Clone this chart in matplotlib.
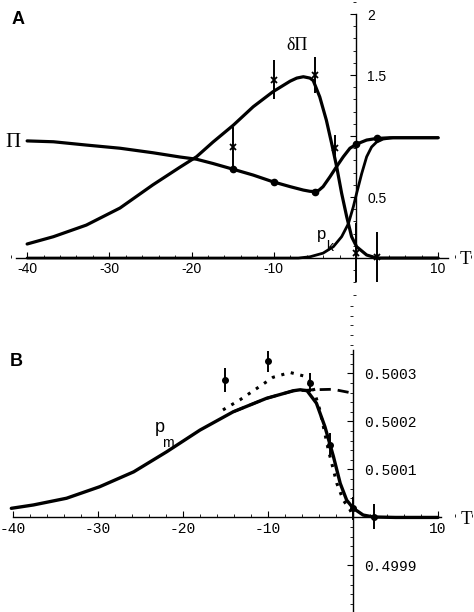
import matplotlib
matplotlib.use('Agg')
import matplotlib.pyplot as plt
from matplotlib.ticker import FixedLocator, FixedFormatter, MultipleLocator

# ---- panel A ----
T_pi = [-40, -36.8, -32.8, -28.7, -24.7, -21.4, -19.4, -17.4, -14.9, -12.5, -10.1,
        -8, -6.4, -5.6, -5, -4.5, -4, -3.16, -2.35, -1.54, -0.73, 0.08, 1.3, 2.5,
        4.1, 10]
pi_vals = [0.96, 0.953, 0.926, 0.90, 0.863, 0.828, 0.81, 0.775, 0.727, 0.68, 0.625,
           0.585, 0.557, 0.547, 0.545, 0.556, 0.585, 0.666, 0.75, 0.83, 0.90, 0.934,
           0.967, 0.98, 0.986, 0.986]

T_dpi = [-40, -36.8, -32.8, -28.7, -24.7, -21.4, -19.4, -17.4, -14.9, -12.5, -10.1,
         -8, -7.2, -6.4, -5.6, -5.2, -4.4, -3.6, -2.96, -2.35, -1.74, -1.13, -0.53,
         0.08, 1.3, 2.5, 10]
dpi_vals = [0.115, 0.175, 0.27, 0.41, 0.60, 0.745, 0.83, 0.95, 1.09, 1.24, 1.363,
            1.45, 1.475, 1.486, 1.475, 1.455, 1.32, 1.13, 0.94, 0.75, 0.53, 0.34,
            0.175, 0.093, 0.025, 0.0, 0.0]

T_pk = [-40, -7, -5.6, -4, -2.75, -1.74, -0.93, -0.32, 0.08, 0.69, 1.3, 1.9, 2.5,
        3.3, 4.5, 10]
pk_vals = [0.0, 0.0, 0.01, 0.04, 0.093, 0.175, 0.28, 0.42, 0.53, 0.69, 0.83, 0.91,
           0.95, 0.975, 0.986, 0.986]

T_pi_dots = [-15, -10, -5, 0, 2.5]
pi_dots = [0.727, 0.625, 0.545, 0.934, 0.98]

T_err_a = [-15, -10, -5, -2.55, 0, 2.5]
err_a_mid = [0.91, 1.46, 1.50, 0.905, 0.045, 0.005]
err_a_half = [0.16, 0.16, 0.15, 0.105, 0.245, 0.205]

# ---- panel B (deviation from 0.5, in units of 1e-4) ----
T_pm = [-40.2, -37.6, -33.7, -29.8, -25.8, -21.9, -18, -14.1, -10.2, -7, -6.2, -5.4,
        -4.3, -3.3, -2.3, -1.5, -0.74, 0.04, 1.2, 2.4, 5, 10]
pm_dev = [0.19, 0.26, 0.40, 0.64, 0.95, 1.37, 1.82, 2.2, 2.48, 2.64, 2.66, 2.64,
          2.38, 1.89, 1.27, 0.71, 0.36, 0.19, 0.05, 0.01, 0.0, 0.0]

T_dash = [-14.1, -10.2, -7, -5.4, -4.67, -2.35, -0.04]
dash_dev = [2.2, 2.48, 2.64, 2.65, 2.66, 2.67, 2.59]

T_dot = [-15.3, -13.3, -11.3, -9.4, -7.4, -5.85, -4.86, -3.9, -2.9, -1.9, -1.14,
         -0.35, 0.1]
dot_dev = [2.24, 2.45, 2.69, 2.92, 3.02, 2.95, 2.8, 2.24, 1.41, 0.71, 0.36, 0.16, 0.0]

T_err_b = [-15, -10, -5, -2.7, 0, 2.5]
err_b_mid = [2.865, 3.25, 2.81, 1.5, 0.19, 0.01]
err_b_half = [0.245, 0.22, 0.19, 0.25, 0.24, 0.26]

x_ticks = [-40, -30, -20, -10, 0, 10]
x_labels = ['-40', '-30', '-20', '-10', '', '10']
ya_ticks = [0.5, 1.0, 1.5, 2.0]
ya_labels = ['0.5', '', '1.5', '2']
yb_ticks = [0.4999, 0.5001, 0.5002, 0.5003]
yb_labels = ['0.4999', '0.5001', '0.5002', '0.5003']

W, H = 474, 612
fig = plt.figure(figsize=(W / 100, H / 100), dpi=100)
axA = fig.add_axes([0, 317 / H, 1, 295 / H])
axB = fig.add_axes([0, 0, 1, 312 / H])


def set_axes(ax, y0, xb, yb, font, size, minor_y):
    for s in ['left', 'top']:
        ax.spines[s].set_visible(False)
    ax.spines['bottom'].set_position(('data', y0))
    ax.spines['right'].set_position(('data', 0))
    ax.spines['bottom'].set_bounds(*xb)
    ax.spines['right'].set_bounds(*yb)
    for s in ['bottom', 'right']:
        ax.spines[s].set_linewidth(1.0)
    ax.yaxis.set_ticks_position('right')
    ax.xaxis.set_ticks_position('bottom')
    ax.xaxis.set_major_locator(FixedLocator(x_ticks))
    ax.xaxis.set_major_formatter(FixedFormatter(x_labels))
    ax.xaxis.set_minor_locator(MultipleLocator(2))
    ax.yaxis.set_minor_locator(MultipleLocator(minor_y))
    ax.tick_params(axis='both', which='major', direction='in', length=4, width=0.8)
    ax.tick_params(axis='both', which='minor', direction='in', length=2, width=0.6)
    ax.tick_params(axis='x', pad=3)
    ax.tick_params(axis='y', pad=8)
    for lab in ax.get_xticklabels() + ax.get_yticklabels():
        lab.set_fontfamily(font)
        lab.set_fontsize(size)


# panel A
axA.plot(T_pi, pi_vals, color='black', lw=2.3, solid_capstyle='round',
         solid_joinstyle='round')
axA.plot(T_dpi, dpi_vals, color='black', lw=2.3, solid_capstyle='round',
         solid_joinstyle='round')
axA.plot(T_pk, pk_vals, color='black', lw=2.0, solid_capstyle='round',
         solid_joinstyle='round')
axA.plot(T_pi_dots, pi_dots, 'o', color='black', ms=4.5)
axA.errorbar(T_err_a, err_a_mid, yerr=err_a_half, fmt='x', color='black', ms=5,
             mew=1.3, elinewidth=1.4, capsize=0, zorder=4)
axA.set_xlim(-43.3, 14.36)
axA.set_ylim(-0.303, 2.115)
axA.yaxis.set_major_locator(FixedLocator(ya_ticks))
axA.yaxis.set_major_formatter(FixedFormatter(ya_labels))
set_axes(axA, 0, (-41.3, 11.2), (0, 2.0), 'Liberation Sans', 10, 0.1)

# panel B
pm = [0.5 + 1e-4 * v for v in pm_dev]
dash = [0.5 + 1e-4 * v for v in dash_dev]
dots = [0.5 + 1e-4 * v for v in dot_dev]
eb = [0.5 + 1e-4 * v for v in err_b_mid]
ebh = [1e-4 * v for v in err_b_half]
axB.plot(T_dash, dash, color='black', lw=2.0, dashes=(4, 2.5))
axB.plot(T_dot, dots, color='black', lw=2.2, dashes=(1, 2.2))
axB.plot(T_pm, pm, color='black', lw=2.4, solid_capstyle='round',
         solid_joinstyle='round')
axB.errorbar(T_err_b, eb, yerr=ebh, fmt='o', color='black', ms=4, elinewidth=1.4,
             capsize=0, zorder=4)
axB.set_xlim(-41.53, 14.24)
axB.set_ylim(0.5 - 1.97e-4, 0.5 + 4.53e-4)
axB.yaxis.set_major_locator(FixedLocator(yb_ticks))
axB.yaxis.set_major_formatter(FixedFormatter(yb_labels))
set_axes(axB, 0.5, (-40, 10.3), (0.5 - 1.97e-4, 0.5 + 3.49e-4), 'Liberation Mono',
         10.5, 0.2e-4)


def ftext(px, py, s, **kw):
    fig.text(px / W, 1 - py / H, s, ha='center', va='center', **kw)


ftext(18, 19, 'A', fontsize=13, fontweight='bold', family='Liberation Sans')
ftext(16, 362, 'B', fontsize=13, fontweight='bold', family='Liberation Sans')
ftext(13, 142, '\u03a0', fontsize=15, family='Liberation Serif')
ftext(297, 45, '\u03b4\u03a0', fontsize=13, family='Liberation Serif')
ftext(465, 260, 'T', fontsize=13.5, family='Liberation Serif')
ftext(466, 520, 'T', fontsize=13.5, family='Liberation Serif')
ftext(322, 234, 'p', fontsize=12, family='Liberation Sans')
ftext(330, 247, 'k', fontsize=10, family='Liberation Sans')
ftext(160, 428, 'p', fontsize=13, family='Liberation Sans')
ftext(168, 443, 'm', fontsize=10, family='Liberation Sans')

fig.savefig('out.png', dpi=100)
